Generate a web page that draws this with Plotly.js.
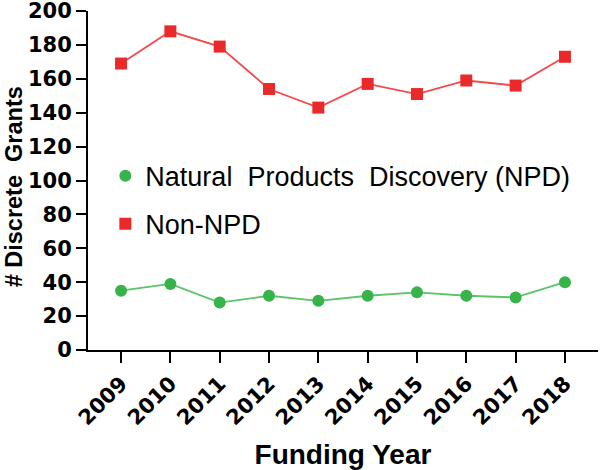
<!DOCTYPE html>
<html><head><meta charset="utf-8">
<script src="https://cdn.plot.ly/plotly-3.0.1.min.js"></script>
<style>html,body{margin:0;padding:0;background:#fff;}#chart{width:600px;height:470px;}</style>
</head><body><div id="chart"></div>
<script>
const years = ['2009','2010','2011','2012','2013','2014','2015','2016','2017','2018'];
const npd = [35, 39, 28, 32, 29, 32, 34, 32, 31, 40];
const nonNpd = [169, 188, 179, 154, 143, 157, 151, 159, 156, 173];
const yTicks = [0,20,40,60,80,100,120,140,160,180,200];
const npdName = 'Natural\u00a0\u00a0Products\u00a0\u00a0Discovery (NPD)';
const nonName = 'Non-NPD';
const yTitle = '#\u00a0Discrete\u00a0\u00a0Grants';
const xTitle = 'Funding Year';
const green = '#36b44a', greenLine = '#5cc468';
const red = '#ea2a2a', redLine = '#f24a4a';

const traces = [
  {x: years, y: npd, type: 'scatter', mode: 'lines', showlegend: false, hoverinfo: 'skip',
   line: {color: greenLine, width: 1.8}},
  {x: years, y: nonNpd, type: 'scatter', mode: 'lines', showlegend: false, hoverinfo: 'skip',
   line: {color: redLine, width: 1.8}},
  {x: years, y: npd, name: npdName, type: 'scatter', mode: 'markers', legendgroup: 'a',
   marker: {color: green, size: 12, symbol: 'circle'}},
  {x: years, y: nonNpd, name: nonName, type: 'scatter', mode: 'markers', legendgroup: 'b',
   marker: {color: red, size: 12, symbol: 'square'}}
];
const tickFont = {size: 21, family: 'DejaVu Sans, sans-serif', weight: 'bold', color: '#000'};
const layout = {
  width: 600, height: 470,
  margin: {l: 88, r: 2, t: 11, b: 120},
  paper_bgcolor: '#fff', plot_bgcolor: '#fff',
  font: {family: 'Liberation Sans, Arial, sans-serif', color: '#000'},
  showlegend: true,
  legend: {x: 0.034, y: 0.585, xanchor: 'left', yanchor: 'top', bgcolor: 'rgba(0,0,0,0)',
    font: {size: 27, color: '#000', family: 'Liberation Sans, Arial, sans-serif'},
    traceorder: 'grouped', tracegroupgap: 10},
  xaxis: {type: 'category', range: [-0.67, 9.67], showline: true, linecolor: '#000', linewidth: 2,
    ticks: 'outside', ticklen: 11, tickwidth: 2, tickcolor: '#000', showgrid: false, zeroline: false,
    tickangle: -45, tickfont: tickFont, automargin: false, ticklabeloverflow: 'allow',
    title: {text: '<b>' + xTitle + '</b>', font: {size: 28, family: 'Liberation Sans, Arial, sans-serif'}, standoff: 18}},
  yaxis: {range: [0, 200], tickvals: yTicks, showline: true, linecolor: '#000', linewidth: 2,
    ticks: 'outside', ticklen: 10, tickwidth: 2, tickcolor: '#000', showgrid: false, zeroline: false,
    tickfont: tickFont, automargin: false, ticklabeloverflow: 'allow'},
  annotations: [{text: '<b>' + yTitle + '</b>', xref: 'paper', yref: 'paper',
    x: -0.145, y: 0.48, xanchor: 'center', yanchor: 'middle', textangle: -90, showarrow: false,
    font: {size: 23.5, family: 'Liberation Sans, Arial, sans-serif', color: '#000'}}]
};
Plotly.newPlot('chart', traces, layout, {displayModeBar: false, staticPlot: true});
</script></body></html>
